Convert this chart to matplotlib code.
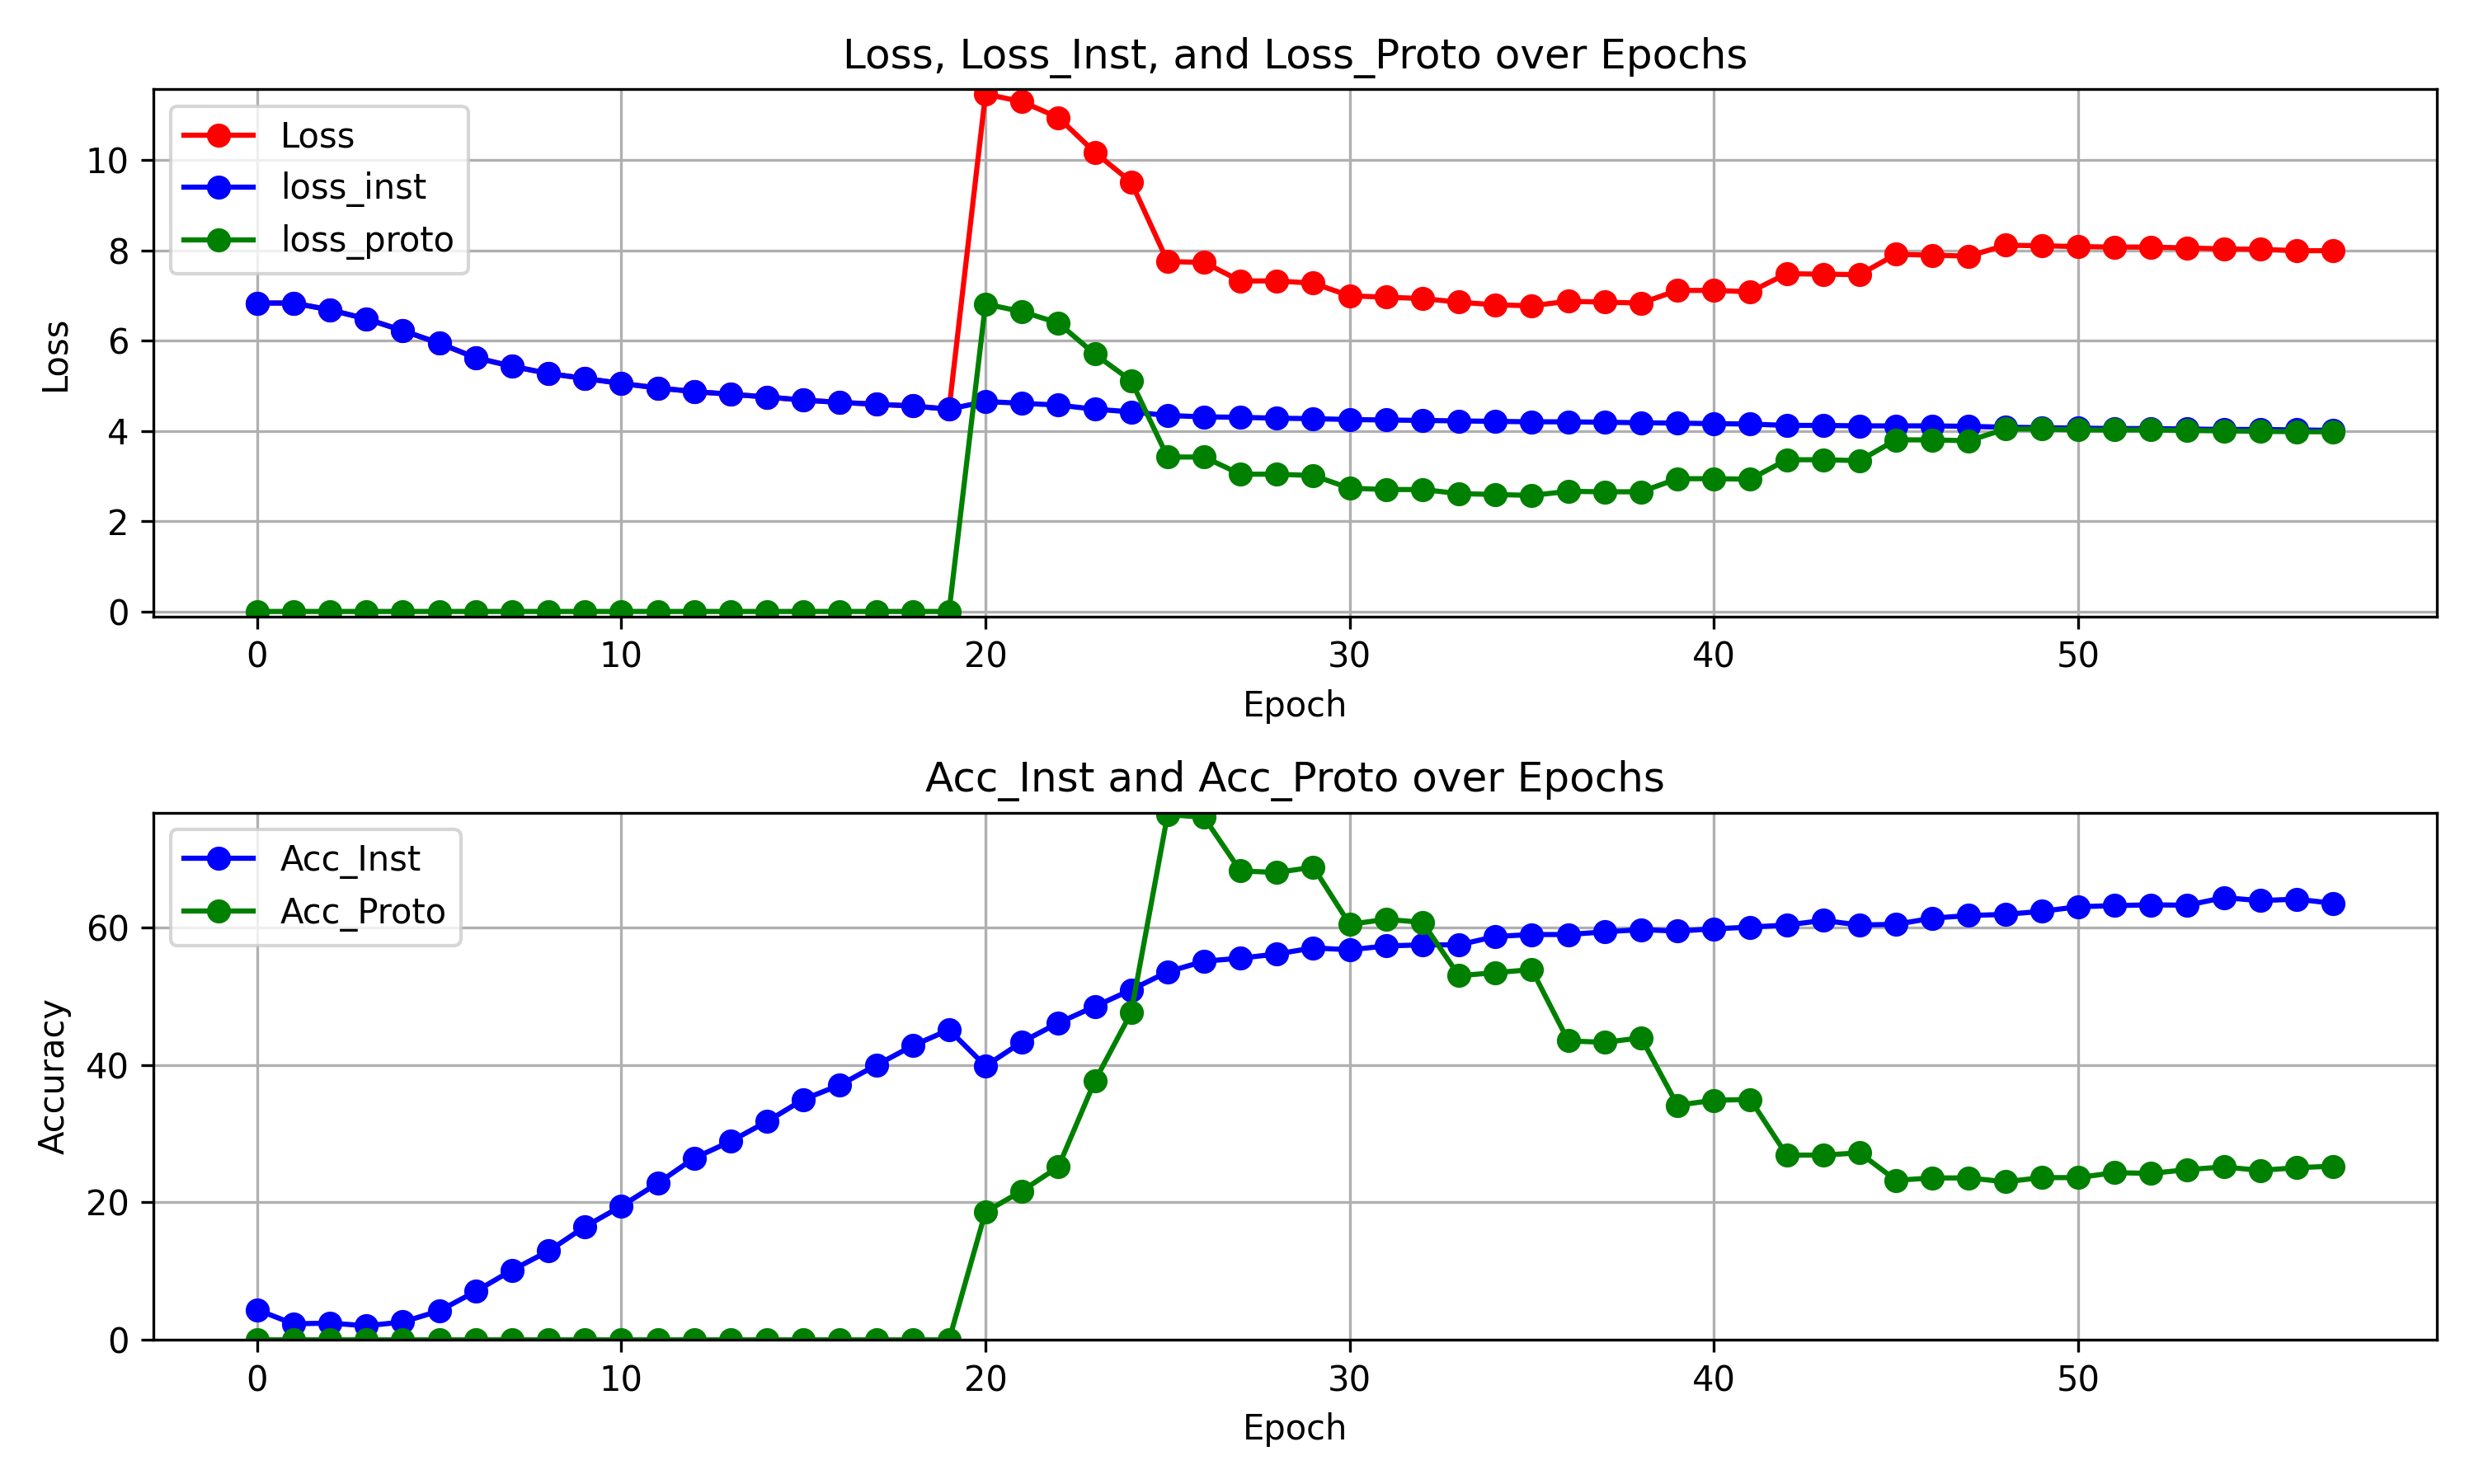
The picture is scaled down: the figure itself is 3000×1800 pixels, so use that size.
import matplotlib
matplotlib.use("Agg")
import matplotlib.pyplot as plt

epochs = list(range(58))

loss_inst = [6.83, 6.83, 6.68, 6.48, 6.22, 5.94, 5.62, 5.43, 5.27, 5.16,
             5.05, 4.95, 4.87, 4.81, 4.75, 4.68, 4.63, 4.59, 4.55, 4.48,
             4.65, 4.61, 4.57, 4.48, 4.42, 4.34, 4.31, 4.30, 4.28, 4.27,
             4.25, 4.24, 4.23, 4.22, 4.21, 4.20, 4.20, 4.19, 4.18, 4.17,
             4.16, 4.15, 4.12, 4.12, 4.11, 4.11, 4.11, 4.10, 4.08, 4.07,
             4.06, 4.05, 4.05, 4.04, 4.03, 4.03, 4.02, 4.01]

loss_proto = [0.0] * 20 + [
    6.81, 6.64, 6.39, 5.70, 5.11, 3.42, 3.42, 3.04, 3.04, 3.01,
    2.73, 2.70, 2.70, 2.61, 2.59, 2.57, 2.66, 2.65, 2.65, 2.94,
    2.94, 2.93, 3.36, 3.36, 3.34, 3.80, 3.80, 3.78, 4.04, 4.04,
    4.02, 4.02, 4.02, 4.01, 4.00, 3.99, 3.98, 3.98]

loss_total = [6.83, 6.83, 6.68, 6.48, 6.22, 5.94, 5.62, 5.43, 5.27, 5.16,
              5.05, 4.95, 4.87, 4.81, 4.75, 4.68, 4.63, 4.59, 4.55, 4.48,
              11.46, 11.29, 10.94, 10.17, 9.51, 7.75, 7.73, 7.32, 7.32, 7.27,
              6.99, 6.96, 6.93, 6.85, 6.79, 6.77, 6.87, 6.85, 6.83, 7.11,
              7.11, 7.08, 7.48, 7.47, 7.46, 7.91, 7.89, 7.87, 8.11, 8.10,
              8.08, 8.07, 8.07, 8.05, 8.03, 8.02, 7.99, 7.99]

acc_inst = [4.38, 2.33, 2.44, 2.05, 2.60, 4.21, 7.04, 10.14, 12.91, 16.45,
            19.45, 22.77, 26.43, 28.86, 31.75, 34.96, 37.06, 39.94, 42.77, 45.10,
            39.83, 43.32, 46.09, 48.48, 50.91, 53.52, 55.07, 55.51, 56.12, 57.01,
            56.73, 57.29, 57.45, 57.45, 58.67, 58.95, 58.95, 59.34, 59.67, 59.45,
            59.78, 60.03, 60.33, 61.00, 60.33, 60.44, 61.33, 61.72, 61.88, 62.33,
            62.99, 63.16, 63.27, 63.21, 64.32, 63.88, 64.10, 63.49]

acc_proto = [0.0] * 20 + [
    18.61, 21.66, 25.15, 37.62, 47.59, 76.40, 76.00, 68.20, 67.98, 68.75,
    60.44, 61.16, 60.72, 52.96, 53.41, 53.85, 43.49, 43.27, 43.93, 34.13,
    34.85, 34.96, 26.87, 26.87, 27.20, 23.21, 23.55, 23.55, 22.99, 23.60,
    23.60, 24.32, 24.21, 24.76, 25.15, 24.65, 25.04, 25.26]

fig, (ax1, ax2) = plt.subplots(2, 1, figsize=(10, 6), dpi=300)

ax1.plot(epochs, loss_total, 'o-', color='red', label='Loss')
ax1.plot(epochs, loss_inst, 'o-', color='blue', label='loss_inst')
ax1.plot(epochs, loss_proto, 'o-', color='green', label='loss_proto')
ax1.set_title('Loss, Loss_Inst, and Loss_Proto over Epochs')
ax1.set_xlabel('Epoch')
ax1.set_ylabel('Loss')
ax1.set_ylim(-0.11, 11.57)
ax1.legend(loc='upper left')
ax1.grid(True)

ax2.plot(epochs, acc_inst, 'o-', color='blue', label='Acc_Inst')
ax2.plot(epochs, acc_proto, 'o-', color='green', label='Acc_Proto')
ax2.set_title('Acc_Inst and Acc_Proto over Epochs')
ax2.set_xlabel('Epoch')
ax2.set_ylabel('Accuracy')
ax2.set_ylim(0, 76.7)
ax2.legend(loc='upper left')
ax2.grid(True)

plt.tight_layout()
plt.savefig('out.png', dpi=300)
